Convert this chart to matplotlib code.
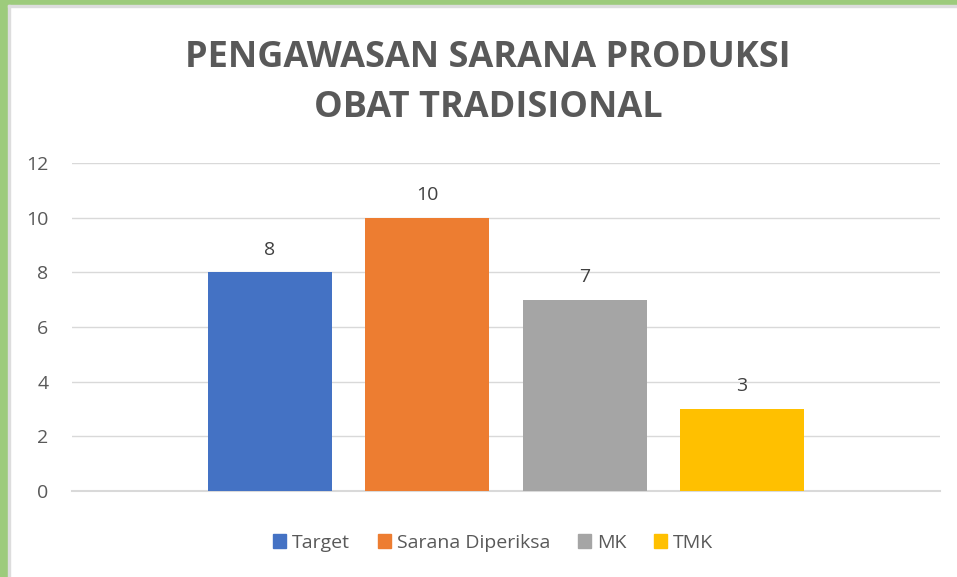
import matplotlib
matplotlib.use("Agg")
import matplotlib.pyplot as plt
from matplotlib.patches import Rectangle, Patch

# data
series = ["Target", "Sarana Diperiksa", "MK", "TMK"]
values = [8, 10, 7, 3]
colors = ["#4472C4", "#ED7D31", "#A5A5A5", "#FFC000"]
yticks = [0, 2, 4, 6, 8, 10, 12]
title = "PENGAWASAN SARANA PRODUKSI\nOBAT TRADISIONAL"

plt.rcParams['font.family'] = ['Open Sans', 'DejaVu Sans']

fig = plt.figure(figsize=(9.57, 5.77), dpi=100)
W, H = 957, 577

# green frame at top and left
fig.patches.append(Rectangle((0, 1 - 5 / H), 1, 5 / H, transform=fig.transFigure,
                             color="#9DCB7C", zorder=0))
fig.patches.append(Rectangle((0, 0), 8 / W, 1, transform=fig.transFigure,
                             color="#9DCB7C", zorder=0))
fig.patches.append(Rectangle((8 / W, 1 - 7 / H), 1, 2 / H, transform=fig.transFigure,
                             color="#DDDDDD", zorder=0))
fig.patches.append(Rectangle((8 / W, 0), 2 / W, 1 - 5 / H, transform=fig.transFigure,
                             color="#DDDDDD", zorder=0))

ax = fig.add_axes([72 / W, 1 - 491 / H, (940 - 72) / W, (491 - 163) / H])
x = list(range(len(series)))
bars = ax.bar(x, values, width=0.79, color=colors, zorder=3)
for b, v in zip(bars, values):
    ax.text(b.get_x() + b.get_width() / 2, v + 0.5, str(v), ha="center", va="bottom",
            fontsize=14, color="#404040")

ax.set_xlim(1.5 - 2.759, 1.5 + 2.759)
ax.set_ylim(0, 12)
ax.set_yticks(yticks)
ax.set_xticks([])
ax.grid(axis="y", color="#D9D9D9", linewidth=1, zorder=0)
for s in ["top", "right", "left"]:
    ax.spines[s].set_visible(False)
ax.spines["bottom"].set_color("#D9D9D9")
ax.spines["bottom"].set_linewidth(1.5)
ax.tick_params(axis="y", length=0, labelsize=14, labelcolor="#595959", pad=17)

fig.text(488 / W, 1 - 83 / H, title, ha="center", va="center", fontsize=26,
         fontweight="bold", color="#595959", linespacing=1.55)

handles = [Patch(color=c, label=s) for c, s in zip(colors, series)]
fig.legend(handles=handles, loc="center", bbox_to_anchor=(493 / W, 1 - 543 / H), ncol=4,
           frameon=False, fontsize=14, labelcolor="#595959", handlelength=0.7,
           handleheight=0.7, handletextpad=0.3, columnspacing=1.4)

fig.savefig("out.png", dpi=100)
